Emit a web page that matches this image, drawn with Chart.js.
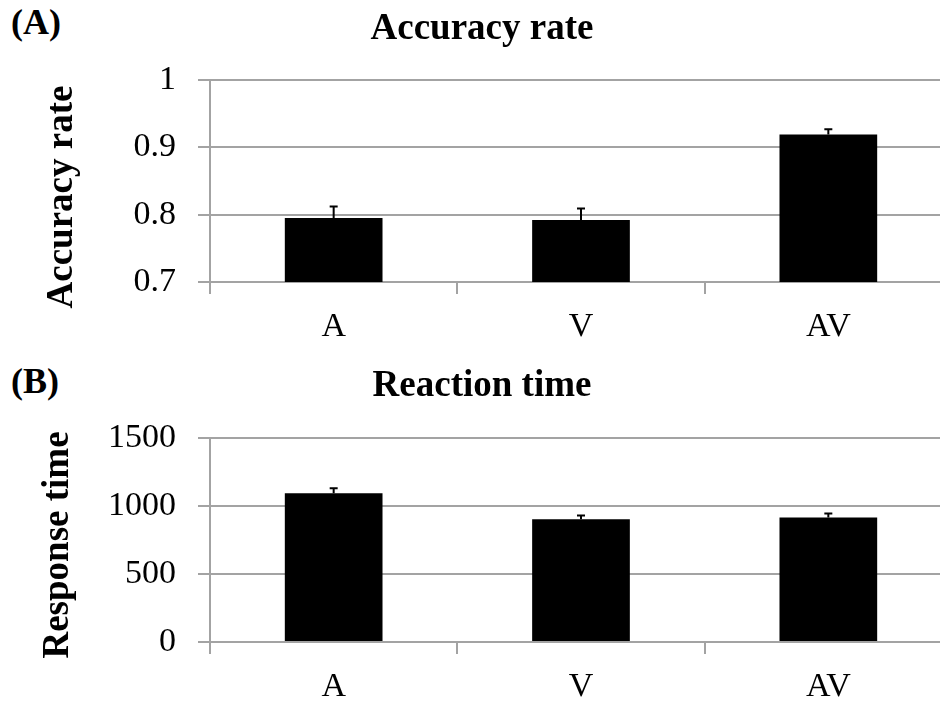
<!DOCTYPE html>
<html>
<head>
<meta charset="utf-8">
<script src="https://cdn.jsdelivr.net/npm/chart.js@4.4.1/dist/chart.umd.min.js"></script>
<style>
  html, body { margin: 0; padding: 0; background: #fff; overflow: hidden; }
  body { width: 940px; height: 707px; position: relative; }
  canvas { position: absolute; left: 0; }
  #chartA { top: 0; }
  #chartB { top: 355px; }
  .tag {
    position: absolute; left: 11px;
    font: bold 36px "Liberation Serif", "Times New Roman", serif;
    color: #000;
  }
</style>
</head>
<body>
<div class="tag" style="top: 1px;">(A)</div>
<div class="tag" style="top: 360px;">(B)</div>
<canvas id="chartA" width="960" height="352"></canvas>
<canvas id="chartB" width="960" height="352"></canvas>
<script>
const conditions = ["A", "V", "AV"];

// accuracy (mean and SE)
const accuracyMean = [0.795, 0.792, 0.919];
const accuracyErr = [0.017, 0.017, 0.008];
const accuracyTicks = [0.7, 0.8, 0.9, 1];

// reaction time (ms, mean and SE)
const rtMean = [1093, 902, 916];
const rtErr = [38, 28, 28];
const rtTicks = [0, 500, 1000, 1500];

const serif = '"Liberation Serif", "Times New Roman", serif';
const gridGray = "#a3a3a3";

// draws the upper half of each error bar with a small cap
const errorBars = {
  id: "errorBars",
  afterDatasetsDraw(chart, args, opts) {
    const ctx = chart.ctx;
    const xs = chart.scales.x;
    const ys = chart.scales.y;
    const means = chart.data.datasets[0].data;
    ctx.save();
    ctx.strokeStyle = "#000";
    ctx.lineWidth = 2;
    means.forEach((m, i) => {
      const x = xs.getPixelForValue(i);
      const y0 = ys.getPixelForValue(m);
      const y1 = ys.getPixelForValue(m + opts.errors[i]);
      ctx.beginPath();
      ctx.moveTo(x, y0);
      ctx.lineTo(x, y1);
      ctx.moveTo(x - 4, y1);
      ctx.lineTo(x + 4, y1);
      ctx.stroke();
    });
    ctx.restore();
  }
};

// rotated y axis caption, placed by hand so it sits a bit below the axis middle
const sideTitle = {
  id: "sideTitle",
  afterDraw(chart, args, opts) {
    const ctx = chart.ctx;
    ctx.save();
    ctx.translate(opts.x, opts.y);
    ctx.rotate(-Math.PI / 2);
    ctx.font = "bold 37px " + serif;
    ctx.fillStyle = "#000";
    ctx.textAlign = "center";
    ctx.textBaseline = "middle";
    ctx.fillText(opts.text, 0, 0);
    ctx.restore();
  }
};

const makeChart = (id, title, yTitle, means, errors, ticks, xHeight, titlePad, yTitlePos) => {
  const ctx = document.getElementById(id).getContext("2d");
  return new Chart(ctx, {
    type: "bar",
    data: {
      labels: conditions,
      datasets: [{
        data: means,
        backgroundColor: "#000",
        borderWidth: 0,
        categoryPercentage: 1,
        barPercentage: 0.395
      }]
    },
    plugins: [errorBars, sideTitle],
    options: {
      responsive: false,
      animation: false,
      devicePixelRatio: 1,
      layout: { padding: { left: 12, right: 8, top: 0, bottom: 0 } },
      plugins: {
        legend: { display: false },
        tooltip: { enabled: false },
        title: {
          display: true,
          text: title,
          color: "#000",
          font: { family: serif, size: 37, weight: "bold", lineHeight: 1.2 },
          padding: titlePad
        },
        errorBars: { errors: errors },
        sideTitle: { text: yTitle, x: yTitlePos[0], y: yTitlePos[1] }
      },
      scales: {
        x: {
          afterFit: (scale) => { scale.height = xHeight; },
          grid: {
            display: true,
            offset: true,
            drawOnChartArea: false,
            drawTicks: true,
            tickLength: 12,
            color: gridGray,
            lineWidth: 2
          },
          border: { display: true, color: gridGray, width: 2 },
          ticks: {
            color: "#000",
            padding: 13,
            font: { family: serif, size: 34 }
          }
        },
        y: {
          min: ticks[0],
          max: ticks[ticks.length - 1],
          afterBuildTicks: (scale) => { scale.ticks = ticks.map(v => ({ value: v })); },
          afterFit: (scale) => { scale.width = 198; },
          grid: {
            color: gridGray,
            lineWidth: 2,
            tickLength: 12
          },
          border: { display: true, color: gridGray, width: 2 },
          ticks: {
            color: "#000",
            padding: 22,
            font: { family: serif, size: 34 },
            callback: (v) => String(v)
          }
        }
      }
    }
  });
};

makeChart("chartA", "Accuracy rate", "Accuracy rate", accuracyMean, accuracyErr,
  accuracyTicks, 70, { top: 7, bottom: 28.6 }, [62, 197]);
makeChart("chartB", "Reaction time", "Response time", rtMean, rtErr,
  rtTicks, 65, { top: 9, bottom: 29.6 }, [58, 190]);
</script>
</body>
</html>
